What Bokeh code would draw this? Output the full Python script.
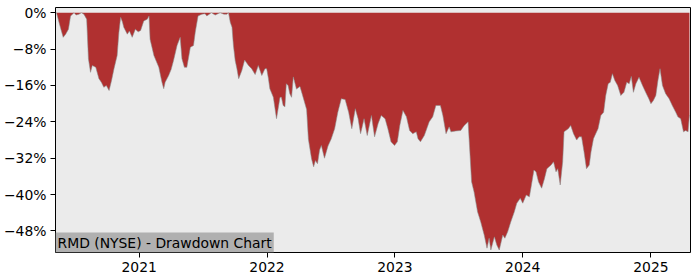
import pandas as pd
from bokeh.plotting import figure
from bokeh.models import ColumnDataSource, FixedTicker, DatetimeTickFormatter, Range1d, Label
from bokeh.embed import file_html
from bokeh.resources import INLINE

title_text = "RMD (NYSE) - Drawdown Chart"

dates_2020 = ["2020-05-07", "2020-05-10", "2020-05-17", "2020-05-22", "2020-05-29", "2020-06-05",
              "2020-06-13", "2020-06-19", "2020-06-29", "2020-07-05", "2020-07-13", "2020-07-20",
              "2020-07-27", "2020-08-04", "2020-08-09", "2020-08-15", "2020-08-20", "2020-08-30",
              "2020-09-08", "2020-09-15", "2020-09-22", "2020-09-29", "2020-10-07", "2020-10-14",
              "2020-10-21", "2020-10-30", "2020-11-04", "2020-11-09", "2020-11-14", "2020-11-18",
              "2020-11-28", "2020-12-04", "2020-12-12", "2020-12-21", "2020-12-29"]
dd_2020 = [0, 0, -2.1, -3.5, -5.4, -4.7,
           -3.6, -0.7, 0, -0.5, -0.3, 0,
           -0.3, -1.4, -10.1, -13.1, -11.6, -12.0,
           -14.5, -15.3, -16.4, -16.0, -17.1, -14.9,
           -12.3, -9.4, -4.3, -1.0, -2.0, -3.2,
           -4.7, -4.0, -5.4, -3.6, -4.2]

dates_2021 = ["2021-01-05", "2021-01-14", "2021-01-24", "2021-01-29", "2021-02-01", "2021-02-12",
              "2021-02-26", "2021-03-07", "2021-03-12", "2021-03-16", "2021-03-26", "2021-04-02",
              "2021-04-09", "2021-04-19", "2021-04-28", "2021-05-03", "2021-05-10", "2021-05-17",
              "2021-05-27", "2021-06-05", "2021-06-10", "2021-06-18", "2021-06-29", "2021-07-08",
              "2021-07-13", "2021-07-26", "2021-08-06", "2021-08-20", "2021-08-31", "2021-09-08",
              "2021-09-13", "2021-09-18", "2021-09-23", "2021-09-27", "2021-10-02", "2021-10-07",
              "2021-10-12", "2021-10-21", "2021-10-29", "2021-11-09", "2021-11-18", "2021-11-28",
              "2021-12-07", "2021-12-17", "2021-12-26", "2021-12-31"]
dd_2021 = [-3.9, -1.8, -1.4, -0.7, -5.8, -9.4,
           -12.0, -15.3, -16.7, -15.3, -13.8, -12.5,
           -10.5, -7.2, -5.4, -10.1, -12.0, -12.0,
           -7.6, -7.2, -4.3, -0.7, -0.3, -0.2,
           -0.7, 0, -0.5, 0, -0.3, -0.3,
           0, -2.1, -3.2, -7.2, -10.5, -12.3,
           -14.5, -12.7, -10.4, -11.6, -12.3, -13.6,
           -11.6, -13.8, -12.3, -12.3]

dates_2022 = ["2022-01-05", "2022-01-09", "2022-01-19", "2022-01-28", "2022-02-07", "2022-02-11",
              "2022-02-16", "2022-02-21", "2022-02-25", "2022-03-02", "2022-03-07", "2022-03-12",
              "2022-03-17", "2022-03-26", "2022-04-05", "2022-04-14", "2022-04-24", "2022-04-29",
              "2022-05-08", "2022-05-14", "2022-05-19", "2022-05-25", "2022-05-31", "2022-06-05",
              "2022-06-14", "2022-06-24", "2022-07-03", "2022-07-13", "2022-07-22", "2022-08-01",
              "2022-08-12", "2022-08-22", "2022-08-31", "2022-09-10", "2022-09-18", "2022-09-25",
              "2022-10-05", "2022-10-14", "2022-10-26", "2022-11-04", "2022-11-14", "2022-11-23",
              "2022-12-04", "2022-12-12", "2022-12-21", "2022-12-31"]
dd_2022 = [-14.5, -16.7, -18.6, -23.3, -18.6, -18.6,
           -20.4, -20.7, -15.6, -16.0, -17.8, -18.6,
           -14.1, -16.8, -16.2, -18.6, -21.3, -27.8,
           -32.1, -33.9, -32.5, -33.2, -30.2, -29.2,
           -32.0, -29.3, -27.8, -25.5, -21.9, -18.9,
           -19.1, -21.9, -25.5, -21.1, -23.3, -26.6,
           -23.3, -27.0, -22.6, -27.3, -24.4, -22.6,
           -23.3, -25.5, -28.4, -29.2]

dates_2023 = ["2023-01-08", "2023-01-15", "2023-01-24", "2023-02-03", "2023-02-12", "2023-02-21",
              "2023-03-03", "2023-03-08", "2023-03-15", "2023-03-26", "2023-04-09", "2023-04-19",
              "2023-04-28", "2023-05-11", "2023-05-18", "2023-05-27", "2023-06-05", "2023-06-10",
              "2023-06-24", "2023-07-08", "2023-07-18", "2023-07-29", "2023-08-02", "2023-08-08",
              "2023-08-15", "2023-08-25", "2023-09-03", "2023-09-13", "2023-09-21", "2023-09-27",
              "2023-10-02", "2023-10-12", "2023-10-19", "2023-10-26", "2023-11-05", "2023-11-11",
              "2023-11-19", "2023-11-28", "2023-12-08", "2023-12-15", "2023-12-25"]
dd_2023 = [-28.4, -24.8, -21.5, -22.9, -25.9, -26.6,
           -26.2, -27.7, -28.4, -27.0, -24.0, -22.9,
           -20.4, -20.4, -22.6, -26.6, -25.1, -26.2,
           -26.0, -25.9, -24.8, -24.0, -29.2, -37.2,
           -39.4, -43.8, -46.0, -48.9, -51.8, -49.6,
           -52.2, -49.3, -51.1, -52.2, -48.9, -49.6,
           -48.2, -46.0, -43.8, -41.9, -40.8]

dates_2024 = ["2024-01-01", "2024-01-11", "2024-01-20", "2024-01-25", "2024-02-02", "2024-02-08",
              "2024-02-15", "2024-02-24", "2024-03-03", "2024-03-10", "2024-03-22", "2024-03-29",
              "2024-04-05", "2024-04-10", "2024-04-17", "2024-04-24", "2024-04-28", "2024-05-10",
              "2024-05-17", "2024-05-25", "2024-06-03", "2024-06-10", "2024-06-17", "2024-06-24",
              "2024-07-01", "2024-07-09", "2024-07-14", "2024-07-21", "2024-07-28", "2024-08-03",
              "2024-08-11", "2024-08-19", "2024-08-25", "2024-09-01", "2024-09-07", "2024-09-13",
              "2024-09-20", "2024-09-28", "2024-10-07", "2024-10-16", "2024-10-24", "2024-10-31",
              "2024-11-06", "2024-11-12", "2024-11-19", "2024-11-28", "2024-12-08", "2024-12-17",
              "2024-12-26"]
dd_2024 = [-41.9, -40.1, -40.5, -38.3, -34.6, -35.0,
           -37.2, -38.6, -36.5, -34.3, -33.5, -32.8,
           -35.0, -34.3, -37.9, -32.8, -26.2, -25.5,
           -24.8, -26.6, -28.0, -27.3, -27.3, -30.6,
           -34.3, -33.5, -30.6, -27.7, -26.5, -25.5,
           -22.6, -21.9, -18.2, -15.6, -15.3, -13.4,
           -14.9, -16.0, -18.2, -17.5, -15.3, -15.6,
           -14.0, -17.5, -15.6, -14.2, -16.0, -17.5,
           -18.9]

dates_2025 = ["2025-01-01", "2025-01-08", "2025-01-15", "2025-01-21", "2025-01-27", "2025-02-03",
              "2025-02-12", "2025-02-22", "2025-03-03", "2025-03-13", "2025-03-19", "2025-03-27",
              "2025-04-04", "2025-04-10", "2025-04-17", "2025-04-21"]
dd_2025 = [-20.0, -19.3, -18.2, -14.9, -12.3, -16.0,
           -17.8, -18.9, -20.4, -21.9, -22.9, -23.3,
           -26.2, -25.9, -26.2, -22.5]

y_ticks = [0, -8, -16, -24, -32, -40, -48]
y_tick_labels = ["0%", "\u22128%", "\u221216%", "\u221224%", "\u221232%", "\u221240%", "\u221248%"]
x_tick_years = ["2021-01-01", "2022-01-01", "2023-01-01", "2024-01-01", "2025-01-01"]

all_dates = dates_2020 + dates_2021 + dates_2022 + dates_2023 + dates_2024 + dates_2025
all_dd = dd_2020 + dd_2021 + dd_2022 + dd_2023 + dd_2024 + dd_2025

src = ColumnDataSource(dict(date=pd.to_datetime(all_dates), dd=all_dd))

FONT = "DejaVu Sans"
FSIZE = "13.9px"
x_start = pd.Timestamp("2020-05-07")
x_end = pd.Timestamp("2025-04-24")

p = figure(width=700, height=280, x_axis_type="datetime", output_backend="svg",
           toolbar_location=None,
           x_range=Range1d(x_start, x_end), y_range=Range1d(-52.75, 1.16),
           min_border_left=53, min_border_right=10, min_border_top=7, min_border_bottom=28)

p.background_fill_color = "#ebebeb"
p.border_fill_color = "white"
p.outline_line_color = "black"
p.outline_line_width = 1
p.grid.visible = False

p.varea(x="date", y1=0, y2="dd", source=src, fill_color="#b03030")
p.line(x="date", y="dd", source=src, line_color="#8a8a8a", line_width=0.8, line_alpha=0.7)

ms = lambda s: pd.Timestamp(s).value // 10**6

p.xaxis.ticker = FixedTicker(ticks=[ms(d) for d in x_tick_years])
p.xaxis.formatter = DatetimeTickFormatter(years="%Y", months="%Y", days="%Y", hours="%Y",
                                          minutes="%Y", seconds="%Y", milliseconds="%Y",
                                          microseconds="%Y", hourmin="%Y", minsec="%Y")
p.yaxis.ticker = FixedTicker(ticks=y_ticks)
p.yaxis.major_label_overrides = {t: l for t, l in zip(y_ticks, y_tick_labels)}

for ax in (p.xaxis[0], p.yaxis[0]):
    ax.axis_line_color = None
    ax.major_tick_out = 5
    ax.major_tick_in = 0
    ax.minor_tick_out = 0
    ax.minor_tick_in = 0
    ax.major_tick_line_color = "black"
    ax.major_label_standoff = 4
    ax.major_label_text_font = FONT
    ax.major_label_text_font_size = FSIZE
    ax.major_label_text_color = "black"

lab = Label(x=ms("2020-05-07"), y=-52.75, x_units="data", y_units="data", text=title_text,
            text_font=FONT, text_font_size=FSIZE, text_color="black",
            text_baseline="bottom", text_align="left",
            background_fill_color="#b0b0b0", padding=2, x_offset=0, y_offset=0)
p.add_layout(lab)

open("out.html", "w").write(file_html(p, INLINE))
